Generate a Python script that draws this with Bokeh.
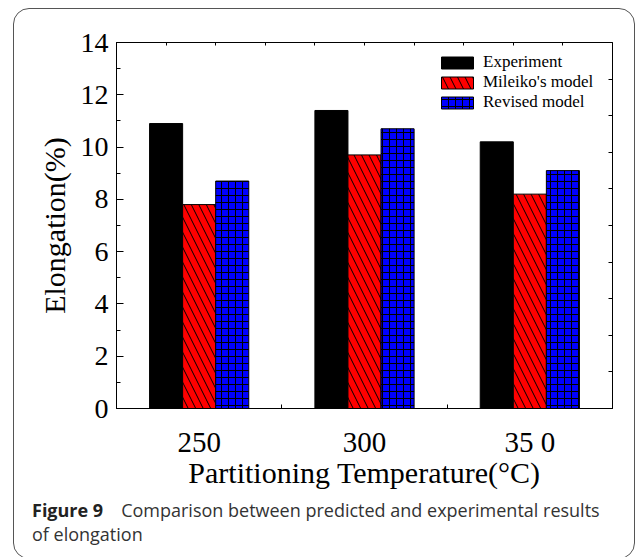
from bokeh.plotting import figure
from bokeh.models import (Range1d, LinearAxis, FixedTicker, SingleIntervalTicker,
                          ColumnDataSource, Div)
from bokeh.layouts import column
from bokeh.transform import dodge
from bokeh.embed import file_html
from bokeh.resources import INLINE

# ---- data ----
temperatures = ["250", "300", "35 0"]
experiment = [10.9, 11.4, 10.2]
mileiko = [7.8, 9.7, 8.2]
revised = [8.7, 10.7, 9.1]

SERIF = "Liberation Serif"

src = ColumnDataSource(dict(
    x=[i + 0.5 for i in range(len(temperatures))],
    exp=experiment, mil=mileiko, rev=revised,
))

p = figure(width=620, height=489, output_backend="svg", toolbar_location=None,
           x_range=Range1d(0, 3), y_range=Range1d(0, 14),
           min_border_left=102, min_border_right=22, min_border_top=33,
           min_border_bottom=90, x_axis_type=None, y_axis_type=None)
p.border_fill_color = None
p.background_fill_color = "white"
p.outline_line_color = "black"
p.grid.visible = False
p.extra_x_ranges = {"t": Range1d(0, 1)}
p.extra_y_ranges = {"r": Range1d(0, 1)}

# bars
p.vbar(x=dodge("x", -0.2, range=p.x_range), top="exp", width=0.2, source=src,
       fill_color="black", line_color="black", line_width=1, legend_label="Experiment")
p.vbar(x=dodge("x", 0.0, range=p.x_range), top="mil", width=0.2, source=src,
       fill_color="#ff0000", line_color="black", line_width=1,
       hatch_pattern="\\", hatch_color="black", hatch_scale=15, hatch_weight=1,
       legend_label="Mileiko's model")
p.vbar(x=dodge("x", 0.2, range=p.x_range), top="rev", width=0.2, source=src,
       fill_color="#0000ff", line_color="black", line_width=1,
       hatch_pattern="+", hatch_color="black", hatch_scale=7, hatch_weight=1,
       legend_label="Revised model")

# bottom axis
xb = LinearAxis(ticker=FixedTicker(ticks=[i + 0.5 for i in range(len(temperatures))],
                                   minor_ticks=list(range(len(temperatures) + 1))))
xb.major_label_overrides = {i + 0.5: t for i, t in enumerate(temperatures)}
xb.major_tick_line_color = None
xb.minor_tick_in = 4
xb.minor_tick_out = 0
xb.axis_line_color = "black"
xb.major_label_text_font = SERIF
xb.major_label_text_font_size = "29px"
xb.major_label_text_color = "black"
xb.major_label_standoff = 11
xb.axis_label = "Partitioning Temperature(°C)"
xb.axis_label_text_font = SERIF
xb.axis_label_text_font_size = "30px"
xb.axis_label_text_font_style = "normal"
xb.axis_label_text_color = "black"
xb.axis_label_standoff = -5
p.add_layout(xb, "below")

# left axis
yl = LinearAxis(ticker=SingleIntervalTicker(interval=2, num_minor_ticks=2))
yl.major_tick_in = 7
yl.major_tick_out = 0
yl.minor_tick_in = 4
yl.minor_tick_out = 0
yl.axis_line_color = "black"
yl.major_label_text_font = SERIF
yl.major_label_text_font_size = "28px"
yl.major_label_text_color = "black"
yl.major_label_standoff = 8
yl.axis_label = "Elongation(%)"
yl.axis_label_text_font = SERIF
yl.axis_label_text_font_size = "30px"
yl.axis_label_text_font_style = "normal"
yl.axis_label_text_color = "black"
yl.axis_label_standoff = 7
p.add_layout(yl, "left")

# right and top axes (ticks only)
tenths = [k / 10 for k in range(1, 10)]
yr = LinearAxis(y_range_name="r", ticker=FixedTicker(ticks=tenths))
yr.major_tick_in = 4
yr.major_tick_out = 0
yr.minor_tick_line_color = None
yr.major_label_overrides = {t: "" for t in tenths}
yr.major_label_standoff = 0
yr.axis_line_color = "black"
p.add_layout(yr, "right")

xt = LinearAxis(x_range_name="t", ticker=FixedTicker(ticks=tenths))
xt.major_tick_in = 3
xt.major_tick_out = 0
xt.minor_tick_line_color = None
xt.major_label_overrides = {t: "" for t in tenths}
xt.major_label_standoff = 0
xt.axis_line_color = "black"
p.add_layout(xt, "above")

# legend
lg = p.legend[0]
lg.location = "top_right"
lg.margin = 10
lg.padding = 0
lg.spacing = 0
lg.glyph_width = 40
lg.glyph_height = 15
lg.label_height = 20
lg.label_standoff = 6
lg.label_width = 119
lg.label_text_font = SERIF
lg.label_text_font_size = "17px"
lg.label_text_color = "black"
lg.background_fill_alpha = 0
lg.border_line_color = None

# caption
caption = Div(
    text=("<span style='font-weight:700;color:#222'>Figure 9</span>&emsp;"
          "Comparison between predicted and experimental results<br>of elongation"),
    width=600, height=60, margin=(0, 0, 0, 18),
    styles={"font-family": "'Open Sans'", "font-size": "18px", "line-height": "24px",
            "color": "#333333"},
)

layout = column(p, caption, spacing=0,
                styles={"border": "1px solid #555555", "border-radius": "16px",
                        "margin-left": "13px", "margin-top": "8px"})

open("out.html", "w").write(file_html(layout, INLINE))
